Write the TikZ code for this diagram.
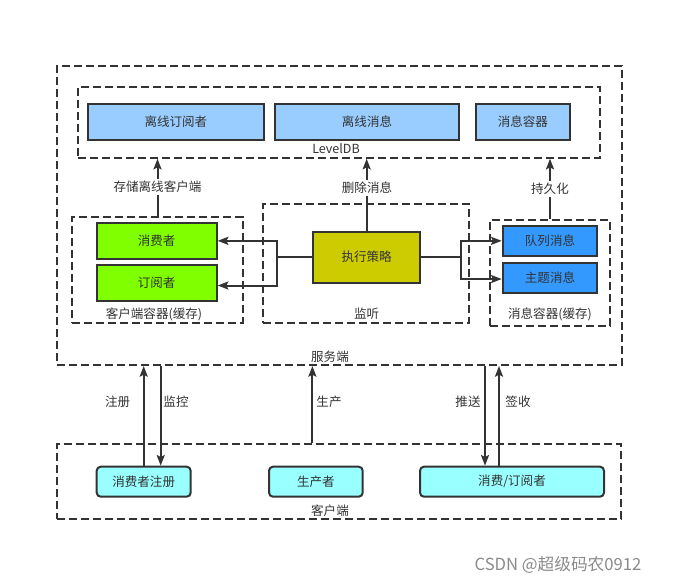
\documentclass[tikz,border=0pt]{standalone}
\usepackage{fontspec}
\setmainfont{Noto Sans CJK SC}
\usetikzlibrary{fit,arrows.meta}
\definecolor{ink}{HTML}{333333}
\definecolor{dbfill}{HTML}{99CCFF}
\definecolor{grfill}{HTML}{80FF00}
\definecolor{olfill}{HTML}{CCCC00}
\definecolor{blfill}{HTML}{3399FF}
\definecolor{cyfill}{HTML}{99FFFF}
\definecolor{wm}{HTML}{8A8A8A}
\tikzset{
  every node/.style={font=\fontsize{9.4pt}{11pt}\selectfont, text=ink},
  sz/.style 2 args={minimum width={#1*0.75pt}, minimum height={#2*0.75pt}},
  box/.style={draw=ink, line width=1.5pt, inner sep=0pt},
  rbox/.style={box, rounded corners=3pt},
  grp/.style={draw=ink, line width=1.5pt, dash pattern=on 6pt off 3pt, inner sep=0pt},
  lbl/.style={inner sep=1pt},
  wlbl/.style={inner sep=1.5pt, fill=white},
  conn/.style={draw=ink, line width=1.5pt},
  arr/.style={conn, -{Stealth[length=8pt, width=6pt, inset=1.5pt]}},
}
\begin{document}
\begin{tikzpicture}[x=0.75pt, y=-0.75pt]
\useasboundingbox (0,0) rectangle (673,584);
% group frames
\node[grp, fit={(57,66) (622,365)}] (srv) {};
\node[grp, fit={(57,444) (621,519)}] (cli) {};
\node[grp, fit={(78,87) (600,157.7)}] (db) {};
\node[grp, fit={(72.3,216.7) (242.7,322.7)}] (cc) {};
\node[grp, fit={(263.3,204) (469.3,322.7)}] (lis) {};
\node[grp, fit={(490,220) (610,325.7)}] (mc) {};
% group labels
\node[lbl] (lsrv) at (330,357) {服务端};
\node[lbl] (lcli) at (330,511) {客户端};
\node[lbl] (ldb) at (336,149) {LevelDB};
\node[lbl] (lcc) at (154,314) {客户端容器(缓存)};
\node[lbl] (llis) at (366.7,314) {监听};
\node[lbl] (lmc) at (550,314) {消息容器(缓存)};
% LevelDB boxes
\node[box, fill=dbfill, sz={176.3}{36.3}] (osub) at (175.85,121.85) {离线订阅者};
\node[box, fill=dbfill, sz={184}{36.3}] (omsg) at (367,121.85) {离线消息};
\node[box, fill=dbfill, sz={94.3}{36.3}] (mbox) at (522.85,121.85) {消息容器};
% client container
\node[box, fill=grfill, sz={120}{36.3}] (cons) at (156.7,240.85) {消费者};
\node[box, fill=grfill, sz={120}{36.3}] (subs) at (156.7,282.85) {订阅者};
% listener
\node[box, fill=olfill, sz={106.7}{51}] (exec) at (366.65,257.2) {执行策略};
% message container
\node[box, fill=blfill, sz={94.6}{29.7}] (qmsg) at (550,240.85) {队列消息};
\node[box, fill=blfill, sz={94.6}{30}] (tmsg) at (550,277.7) {主题消息};
% client side
\node[rbox, fill=cyfill, sz={94}{30}] (reg) at (143.7,481.7) {消费者注册};
\node[rbox, fill=cyfill, sz={93.7}{30}] (prod) at (315.85,481.7) {生产者};
\node[rbox, fill=cyfill, sz={184}{30}] (csub) at (512,481.7) {消费/订阅者};
% upward connectors to LevelDB
\draw[arr] (cc.north) -- (cc.north |- db.south);
\draw[arr] (exec.north) -- (exec.north |- db.south);
\draw[arr] (mc.north) -- (mc.north |- db.south);
\node[wlbl] (l1) at (157.5,187) {存储离线客户端};
\node[wlbl] (l2) at (367,188) {删除消息};
\node[wlbl] (l3) at (550,189) {持久化};
% execution strategy fan-out
\coordinate (jl) at (276.7,256.7);
\coordinate (jr) at (461,256.7);
\draw[conn] (exec.west |- jl) -- (jl);
\draw[arr] (jl) |- (cons.east);
\draw[arr] (jl) |- ([yshift=-2pt]subs.east);
\draw[conn] (exec.east |- jr) -- (jr);
\draw[arr] (jr) |- (qmsg.west);
\draw[arr] (jr) |- ([yshift=-1pt]tmsg.west);
% client <-> server
\draw[arr] (reg.north) -- (reg.north |- srv.south);
\draw[arr] ([xshift=12.75pt]reg.north |- srv.south) -- ([xshift=12.75pt]reg.north);
\draw[arr] ([xshift=-2.6pt]prod.north |- cli.north) -- ([xshift=-2.6pt]prod.north |- srv.south);
\draw[arr] ([xshift=-20.25pt]csub.north |- srv.south) -- ([xshift=-20.25pt]csub.north);
\draw[arr] ([xshift=-9.75pt]csub.north) -- ([xshift=-9.75pt]csub.north |- srv.south);
\node[lbl] (t1) at (117.7,402) {注册};
\node[lbl] (t2) at (176,402) {监控};
\node[lbl] (t3) at (329,402) {生产};
\node[lbl] (t4) at (468,402) {推送};
\node[lbl] (t5) at (518,402) {签收};
% watermark
\node[lbl, text=wm, font=\fontsize{12.5pt}{14pt}\selectfont] (wmk) at (558,565) {CSDN @超级码农0912};
\end{tikzpicture}
\end{document}
